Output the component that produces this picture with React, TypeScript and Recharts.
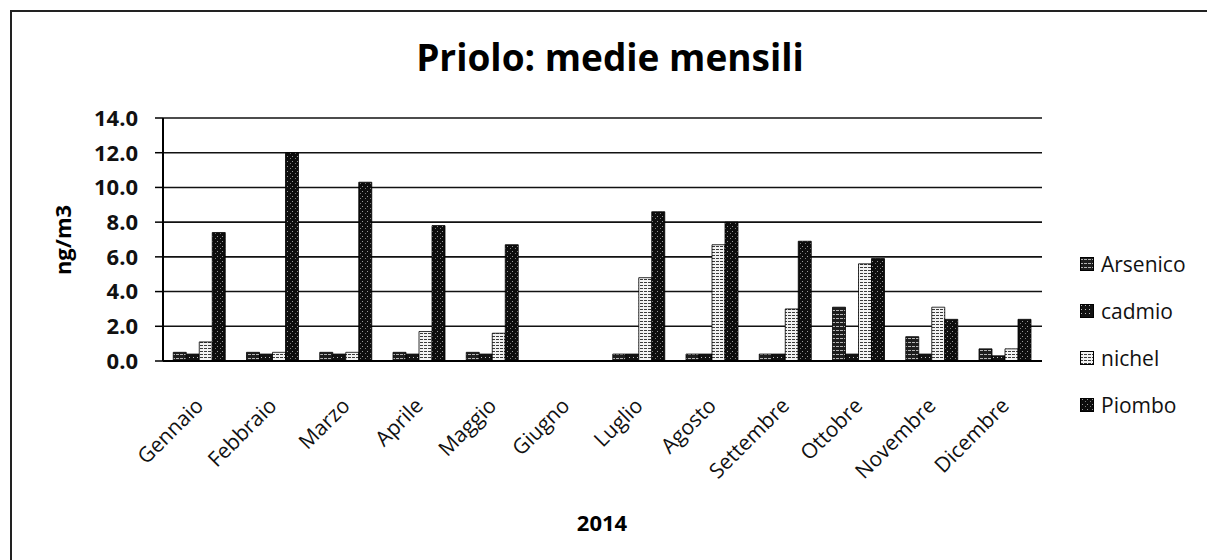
import React from "react";
import { BarChart, Bar, XAxis, YAxis, CartesianGrid, Legend } from "recharts";

const MONTHS = [
  "Gennaio", "Febbraio", "Marzo", "Aprile", "Maggio", "Giugno",
  "Luglio", "Agosto", "Settembre", "Ottobre", "Novembre", "Dicembre",
];
const SERIES = ["Arsenico", "cadmio", "nichel", "Piombo"];
const ARSENICO = [0.5, 0.5, 0.5, 0.5, 0.5, null, 0.4, 0.4, 0.4, 3.1, 1.4, 0.7];
const CADMIO = [0.4, 0.4, 0.4, 0.4, 0.4, null, 0.4, 0.4, 0.4, 0.4, 0.4, 0.3];
const NICHEL = [1.1, 0.5, 0.5, 1.7, 1.6, null, 4.8, 6.7, 3.0, 5.6, 3.1, 0.7];
const PIOMBO = [7.4, 12.0, 10.3, 7.8, 6.7, null, 8.6, 8.0, 6.9, 5.9, 2.4, 2.4];
const Y_TICKS = [0, 2, 4, 6, 8, 10, 12, 14];

const data = MONTHS.map((m, i) => ({
  month: m,
  Arsenico: ARSENICO[i],
  cadmio: CADMIO[i],
  nichel: NICHEL[i],
  Piombo: PIOMBO[i],
}));

const FONT = "'Open Sans', Lato, sans-serif";

const MonthTick = (props: any) => {
  const { x, y, payload } = props;
  const ax = x + 5;
  const ay = y + 44;
  return (
    <text
      x={ax}
      y={ay}
      transform={`rotate(-45 ${ax} ${ay})`}
      textAnchor="end"
      fontSize={21}
      fontFamily={FONT}
      fill="#111"
    >
      {payload.value}
    </text>
  );
};

const LegendBox = (props: any) => {
  const items = [...(props.payload || [])].sort(
    (a: any, b: any) => SERIES.indexOf(a.value) - SERIES.indexOf(b.value)
  );
  return (
    <div style={{ fontFamily: FONT, fontSize: 21, color: "#111" }}>
      {items.map((p: any) => (
        <div key={p.value} style={{ height: 47, display: "flex", alignItems: "center" }}>
          <svg width={14} height={14} style={{ marginRight: 7 }}>
            <rect x={0.5} y={0.5} width={13} height={13} fill={p.color} stroke="#000" />
          </svg>
          <span>{p.value}</span>
        </div>
      ))}
    </div>
  );
};

export default function App() {
  return (
    <div
      style={{
        position: "absolute",
        left: 0,
        top: 0,
        width: 1207,
        height: 560,
        overflow: "hidden",
        background: "#fff",
      }}
    >
      <div
        style={{
          position: "absolute",
          left: 10,
          top: 10,
          width: 1220,
          height: 600,
          borderLeft: "2px solid #222",
          borderTop: "2px solid #222",
        }}
      />
      <div
        style={{
          position: "absolute",
          left: 0,
          width: 1220,
          top: 31,
          textAlign: "center",
          fontFamily: FONT,
          fontWeight: 700,
          fontSize: 37,
          color: "#000",
        }}
      >
        Priolo: medie mensili
      </div>
      <div style={{ position: "absolute", left: 0, top: 0 }}>
        <BarChart
          width={1207}
          height={560}
          data={data}
          margin={{ top: 118, right: 165, bottom: 0, left: 10 }}
          barGap={0}
          barCategoryGap="14%"
        >
          <defs>
            <pattern id="pAs" width={4} height={4} patternUnits="userSpaceOnUse">
              <rect width={4} height={4} fill="#1e1e1e" />
              <rect x={0} y={2} width={3} height={1} fill="#b5b5b5" />
            </pattern>
            <pattern id="pCd" width={4} height={4} patternUnits="userSpaceOnUse">
              <rect width={4} height={4} fill="#121212" />
              <rect x={1} y={1} width={1} height={1} fill="#bdbdbd" />
            </pattern>
            <pattern id="pNi" width={4} height={3} patternUnits="userSpaceOnUse">
              <rect width={4} height={3} fill="#f2f2f2" />
              <rect x={0} y={0} width={3} height={1} fill="#3a3a3a" />
            </pattern>
            <pattern id="pPb" width={5} height={5} patternUnits="userSpaceOnUse">
              <rect width={5} height={5} fill="#0d0d0d" />
              <rect x={2} y={1} width={1} height={1} fill="#9a9a9a" />
              <rect x={0} y={3} width={1} height={1} fill="#7a7a7a" />
            </pattern>
          </defs>
          <CartesianGrid vertical={false} stroke="#111" strokeWidth={1.6} />
          <XAxis
            dataKey="month"
            height={199}
            interval={0}
            tickSize={0}
            tickLine={false}
            axisLine={{ stroke: "#000", strokeWidth: 2 }}
            tick={<MonthTick />}
            label={{
              content: () => (
                <text
                  x={602}
                  y={531}
                  textAnchor="middle"
                  fontFamily={FONT}
                  fontWeight={700}
                  fontSize={22}
                  fill="#000"
                >
                  2014
                </text>
              ),
            }}
          />
          <YAxis
            width={153}
            domain={[0, 14]}
            ticks={Y_TICKS}
            interval={0}
            tickSize={8}
            tickMargin={17}
            tickFormatter={(v: number) => v.toFixed(1)}
            axisLine={{ stroke: "#000", strokeWidth: 2 }}
            tickLine={{ stroke: "#000", strokeWidth: 1.5 }}
            tick={{ fontFamily: FONT, fontWeight: 700, fontSize: 22, fill: "#111" }}
            label={{
              content: () => (
                <text
                  x={62}
                  y={240}
                  transform="rotate(-90 62 240)"
                  textAnchor="middle"
                  dominantBaseline="central"
                  fontFamily={FONT}
                  fontWeight={700}
                  fontSize={22}
                  fill="#000"
                >
                  ng/m3
                </text>
              ),
            }}
          />
          <Legend
            layout="vertical"
            align="center"
            verticalAlign="middle"
            wrapperStyle={{ left: 1080, top: 240, width: 127 }}
            content={<LegendBox />}
          />
          <Bar dataKey="Arsenico" fill="url(#pAs)" stroke="#000" strokeWidth={0.8} isAnimationActive={false} />
          <Bar dataKey="cadmio" fill="url(#pCd)" stroke="#000" strokeWidth={0.8} isAnimationActive={false} />
          <Bar dataKey="nichel" fill="url(#pNi)" stroke="#000" strokeWidth={0.8} isAnimationActive={false} />
          <Bar dataKey="Piombo" fill="url(#pPb)" stroke="#000" strokeWidth={0.8} isAnimationActive={false} />
        </BarChart>
      </div>
    </div>
  );
}
